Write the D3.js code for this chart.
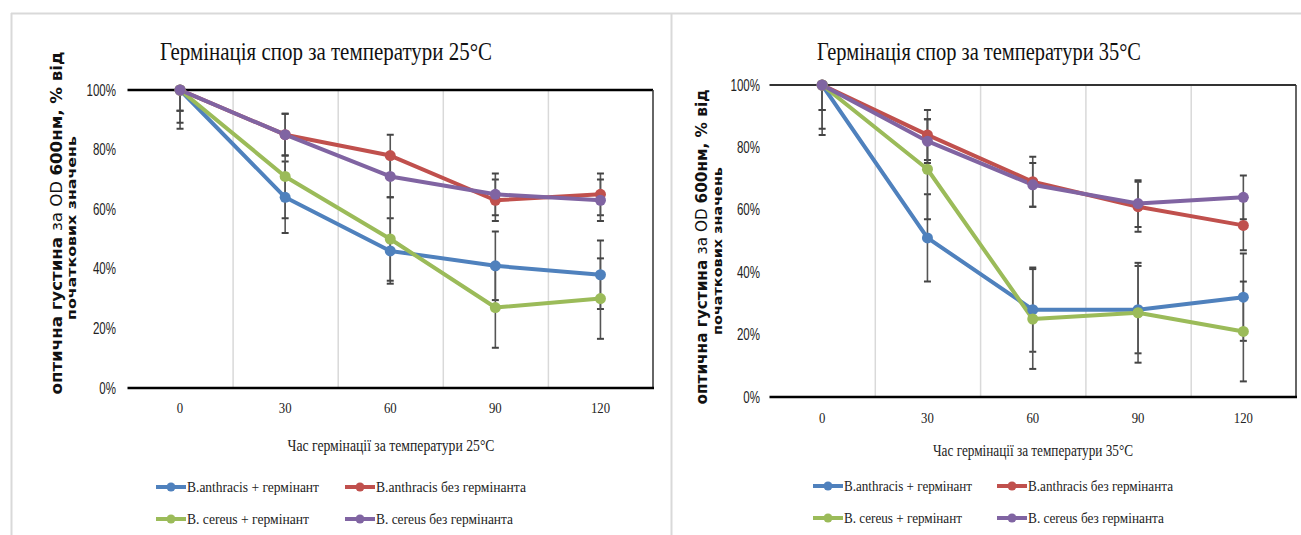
<!DOCTYPE html>
<html>
<head>
<meta charset="utf-8">
<script src="https://cdn.jsdelivr.net/npm/d3@7"></script>
<style>
  body { margin: 0; background: #fff; }
  svg { display: block; }
</style>
</head>
<body>
<script>
// data
var times = [0, 30, 60, 90, 120];
var seriesNames = ["B.anthracis + гермінант", "B.anthracis  без гермінанта", "B. cereus + гермінант", "B. cereus без гермінанта"];
var seriesColors = ["#4F81BD", "#C0504D", "#9BBB59", "#8064A2"];
var yTicks = [0, 0.2, 0.4, 0.6, 0.8, 1];

var values25 = [
    [100, 64, 46, 41, 38],
    [100, 85, 78, 63, 65],
    [100, 71, 50, 27, 30],
    [100, 85, 71, 65, 63]
];
var errors25 = [
    [13, 12, 11, 11.5, 11.5],
    [7, 7, 7, 7, 7],
    [11, 14, 14, 13.5, 13.5],
    [7, 7, 7, 7, 7]
];
var values35 = [
    [100, 51, 28, 28, 32],
    [100, 84, 69, 61, 55],
    [100, 73, 25, 27, 21],
    [100, 82, 68, 62, 64]
];
var errors35 = [
    [16, 14, 13.5, 14, 14],
    [8, 8, 8, 8, 8],
    [14, 16, 16, 16, 16],
    [8, 7, 7, 7.5, 7]
];

var width = 1301, height = 535;
var serif = "'Liberation Serif', 'Times New Roman', serif";

var svg = d3.select("body").append("svg")
    .attr("width", width)
    .attr("height", height);

// panel frames
svg.append("line").attr("x1", 11).attr("x2", width).attr("y1", 13.5).attr("y2", 13.5)
    .attr("stroke", "#d9d9d9").attr("stroke-width", 2);
svg.append("line").attr("x1", 11.5).attr("x2", 11.5).attr("y1", 13).attr("y2", height)
    .attr("stroke", "#d9d9d9").attr("stroke-width", 2);
svg.append("line").attr("x1", 671.5).attr("x2", 671.5).attr("y1", 13).attr("y2", height)
    .attr("stroke", "#d9d9d9").attr("stroke-width", 2);

function squeeze(sel, factor) {
    sel.each(function () {
        var len = this.getComputedTextLength();
        d3.select(this).attr("textLength", len * factor).attr("lengthAdjust", "spacingAndGlyphs");
    });
}

function fit(sel, w) {
    sel.attr("textLength", w).attr("lengthAdjust", "spacingAndGlyphs");
}

function drawChart(cfg) {
    var g = svg.append("g");

    var x = d3.scaleBand().domain(times).range([cfg.x0, cfg.x1]);
    var y = d3.scaleLinear().domain([0, 100]).range([cfg.yBot, cfg.yTop]);

    var clipId = "clip" + cfg.id;
    g.append("clipPath").attr("id", clipId)
        .append("rect")
        .attr("x", cfg.x0).attr("y", cfg.yTop)
        .attr("width", cfg.x1 - cfg.x0).attr("height", cfg.yBot - cfg.yTop);

    // vertical gridlines between categories
    g.selectAll(".vgrid")
        .data(times.slice(1))
        .enter().append("line")
        .attr("x1", d => x(d) + 0.5).attr("x2", d => x(d) + 0.5)
        .attr("y1", cfg.yTop).attr("y2", cfg.yBot)
        .attr("stroke", "#d9d9d9").attr("stroke-width", 1.5);

    // frame: top, right, bottom
    g.append("line").attr("x1", cfg.x0).attr("x2", cfg.x1).attr("y1", y(100)).attr("y2", y(100))
        .attr("stroke", cfg.topColor).attr("stroke-width", cfg.topWidth);
    g.append("line").attr("x1", cfg.x1).attr("x2", cfg.x1).attr("y1", y(100)).attr("y2", y(0))
        .attr("stroke", "#333").attr("stroke-width", 1.5);
    g.append("line").attr("x1", cfg.x0).attr("x2", cfg.x1 + 1).attr("y1", y(0)).attr("y2", y(0))
        .attr("stroke", "#000").attr("stroke-width", 2.5);

    // y tick labels
    g.selectAll(".ytick")
        .data(yTicks)
        .enter().append("text")
        .attr("x", cfg.yLabelX)
        .attr("y", d => y(d * 100))
        .attr("dy", "0.35em")
        .attr("text-anchor", "end")
        .attr("font-family", "'Liberation Sans', Arial, sans-serif")
        .attr("font-size", "16px")
        .attr("fill", "#222")
        .text(d3.format(".0%"))
        .call(squeeze, 0.72);

    // x tick labels
    g.selectAll(".xtick")
        .data(times)
        .enter().append("text")
        .attr("x", d => x(d) + x.bandwidth() / 2)
        .attr("y", cfg.xLabelY)
        .attr("dy", "0.35em")
        .attr("text-anchor", "middle")
        .attr("font-family", serif)
        .attr("font-size", "15px")
        .attr("fill", "#222")
        .text(d => d)
        .call(squeeze, 0.85);

    var line = d3.line()
        .x((d, i) => x(times[i]) + x.bandwidth() / 2)
        .y(d => y(d));

    var plot = g.append("g").attr("clip-path", "url(#" + clipId + ")");

    cfg.values.forEach(function (vals, s) {
        plot.append("path")
            .datum(vals)
            .attr("d", line)
            .attr("fill", "none")
            .attr("stroke", seriesColors[s])
            .attr("stroke-width", 4)
            .attr("stroke-linejoin", "round");
    });

    // error bars
    cfg.values.forEach(function (vals, s) {
        var bars = plot.selectAll(".err" + s)
            .data(vals.map((v, i) => ({ t: times[i], v: v, e: cfg.errors[s][i] })))
            .enter().append("g")
            .attr("transform", d => "translate(" + (x(d.t) + x.bandwidth() / 2) + ",0)");
        bars.append("line")
            .attr("y1", d => y(d.v + d.e)).attr("y2", d => y(d.v - d.e))
            .attr("stroke", "#555").attr("stroke-width", 1.6);
        bars.append("line")
            .attr("x1", -3.5).attr("x2", 3.5)
            .attr("y1", d => y(d.v + d.e)).attr("y2", d => y(d.v + d.e))
            .attr("stroke", "#444").attr("stroke-width", 2);
        bars.append("line")
            .attr("x1", -3.5).attr("x2", 3.5)
            .attr("y1", d => y(d.v - d.e)).attr("y2", d => y(d.v - d.e))
            .attr("stroke", "#444").attr("stroke-width", 2);
    });

    cfg.values.forEach(function (vals, s) {
        g.selectAll(".pt" + s)
            .data(vals)
            .enter().append("circle")
            .attr("cx", (d, i) => x(times[i]) + x.bandwidth() / 2)
            .attr("cy", d => y(d))
            .attr("r", 5.5)
            .attr("fill", seriesColors[s]);
    });

    // title
    g.append("text")
        .attr("x", cfg.titleX)
        .attr("y", cfg.titleY)
        .attr("text-anchor", "middle")
        .attr("font-family", serif)
        .attr("font-size", "25px")
        .attr("fill", "#111")
        .text(cfg.title)
        .call(fit, cfg.titleW);

    // x axis title
    g.append("text")
        .attr("x", cfg.xTitleX)
        .attr("y", cfg.xTitleY)
        .attr("dy", "0.35em")
        .attr("text-anchor", "middle")
        .attr("font-family", serif)
        .attr("font-size", "16px")
        .attr("fill", "#222")
        .text(cfg.xTitle)
        .call(fit, cfg.xTitleW);

    // y axis title, two lines
    var yt1 = g.append("text")
        .attr("transform", "translate(" + cfg.yT1x + "," + cfg.yT1y + ") rotate(-90)")
        .attr("dy", "0.35em")
        .attr("text-anchor", "middle")
        .attr("font-family", "'DejaVu Sans', sans-serif")
        .attr("font-size", "15px")
        .attr("fill", "#111");
    yt1.append("tspan").attr("font-weight", "bold").text("оптична густина  ");
    yt1.append("tspan").text("за OD ");
    yt1.append("tspan").attr("font-weight", "bold").text("600нм, % від");
    yt1.call(fit, cfg.yT1w);

    g.append("text")
        .attr("transform", "translate(" + cfg.yT2x + "," + cfg.yT2y + ") rotate(-90)")
        .attr("dy", "0.35em")
        .attr("text-anchor", "middle")
        .attr("font-family", "'DejaVu Sans', sans-serif")
        .attr("font-size", "12px")
        .attr("font-weight", "bold")
        .attr("fill", "#111")
        .text("початкових значень")
        .call(fit, cfg.yT2w);

    // legend
    var legend = g.selectAll(".legend")
        .data(seriesNames)
        .enter().append("g")
        .attr("transform", (d, i) => "translate(" + cfg.legCols[i % 2] + "," + cfg.legRows[Math.floor(i / 2)] + ")");
    legend.append("line")
        .attr("x1", 0).attr("x2", 30)
        .attr("stroke", (d, i) => seriesColors[i])
        .attr("stroke-width", 4);
    legend.append("circle")
        .attr("cx", 15).attr("r", 4.5)
        .attr("fill", (d, i) => seriesColors[i]);
    legend.append("text")
        .attr("x", 31)
        .attr("dy", "0.35em")
        .attr("font-family", serif)
        .attr("font-size", "15px")
        .attr("fill", "#222")
        .text(d => d)
        .each(function (d, i) {
            d3.select(this).call(fit, cfg.legW[i]);
        });
}

drawChart({
    id: 25,
    values: values25, errors: errors25,
    x0: 127.5, x1: 653, yTop: 90, yBot: 388,
    topColor: "#000", topWidth: 2.5,
    yLabelX: 116, xLabelY: 408,
    title: "Гермінація спор за температури 25°C", titleX: 326, titleY: 60, titleW: 332,
    xTitle: "Час гермінації за температури 25°C", xTitleX: 391, xTitleY: 445, xTitleW: 207,
    yT1x: 57, yT1y: 223, yT1w: 343,
    yT2x: 72, yT2y: 228, yT2w: 184,
    legCols: [156, 345], legRows: [487, 519],
    legW: [132, 150, 122, 137]
});

drawChart({
    id: 35,
    values: values35, errors: errors35,
    x0: 769.5, x1: 1296, yTop: 85, yBot: 397,
    topColor: "#333", topWidth: 2,
    yLabelX: 760, xLabelY: 418,
    title: "Гермінація спор за температури 35°C", titleX: 979, titleY: 60, titleW: 324,
    xTitle: "Час гермінації за температури 35°C", xTitleX: 1033, xTitleY: 450, xTitleW: 200,
    yT1x: 702, yT1y: 247, yT1w: 315,
    yT2x: 718, yT2y: 251, yT2w: 168,
    legCols: [813, 997], legRows: [486, 518],
    legW: [128, 145, 118, 136]
});
</script>
</body>
</html>
